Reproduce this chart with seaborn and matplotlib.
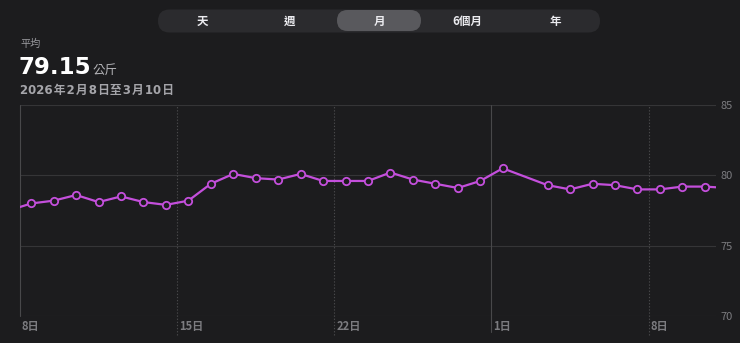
import matplotlib
matplotlib.use("Agg")
import matplotlib.pyplot as plt
import matplotlib.transforms as mtransforms
from matplotlib.patches import FancyBboxPatch
import numpy as np
import pandas as pd
import seaborn as sns

# ---------------- data ----------------
dates = ["2026-02-07", "2026-02-08", "2026-02-09", "2026-02-10", "2026-02-11",
         "2026-02-12", "2026-02-13", "2026-02-14", "2026-02-15", "2026-02-16",
         "2026-02-17", "2026-02-18", "2026-02-19", "2026-02-20", "2026-02-21",
         "2026-02-22", "2026-02-23", "2026-02-24", "2026-02-25", "2026-02-26",
         "2026-02-27", "2026-02-28", "2026-03-01", "2026-03-03", "2026-03-04",
         "2026-03-05", "2026-03-06", "2026-03-07", "2026-03-08", "2026-03-09",
         "2026-03-10", "2026-03-11"]
weights = [77.5, 78.0, 78.2, 78.6, 78.1, 78.5, 78.1, 77.9, 78.2, 79.4,
           80.1, 79.8, 79.7, 80.1, 79.6, 79.6, 79.6, 80.2, 79.7, 79.4,
           79.1, 79.6, 80.5, 79.3, 79.0, 79.4, 79.3, 79.0, 79.0, 79.2,
           79.2, 79.1]
range_start = "2026-02-08"
range_days = 31
tick_days = [0, 7, 14, 21, 28]
tick_labels = ["8日", "15日", "22日", "1日", "8日"]
solid_ticks = [0, 21]
y_ticks = [70, 75, 80, 85]
segments = ["天", "週", "月", "6個月", "年"]
selected_segment = "月"
avg_label = "平均"
avg_value = "79.15"
avg_unit = "公斤"
date_range_text = "2026\u200a年\u200a2\u200a月\u200a8\u200a日至\u200a3\u200a月\u200a10\u200a日"

# ---------------- style ----------------
BG = "#1c1c1e"
PURPLE = "#c44fdc"
GRID = "#353537"
VGRID = "#48484a"
TICK = "#7c7c80"

sns.set_theme(style="dark")
plt.rcParams["font.family"] = ["Noto Sans CJK TC", "DejaVu Sans"]

W, H, DPI = 740, 343, 100
fig = plt.figure(figsize=(W / DPI, H / DPI), dpi=DPI, facecolor=BG)

# chart axes
L, R, T, B = 20, 716, 105, 316
ax = fig.add_axes([L / W, (H - B) / H, (R - L) / W, (B - T) / H])
ax.set_facecolor(BG)

df = pd.DataFrame({"date": pd.to_datetime(dates), "weight": weights})
df["x"] = (df["date"] - pd.Timestamp(range_start)).dt.days + 0.5

sns.lineplot(data=df, x="x", y="weight", ax=ax, color=PURPLE, linewidth=1.6,
             marker="o", markersize=5.3, markerfacecolor=BG,
             markeredgecolor=PURPLE, markeredgewidth=1.3, zorder=5)

ax.set_xlim(0, range_days)
ax.set_ylim(y_ticks[0], y_ticks[-1])
for s in ax.spines.values():
    s.set_visible(False)
ax.grid(False)

# horizontal grid
for yv in y_ticks:
    ax.axhline(yv, color=GRID, linewidth=0.8, zorder=1)

# vertical grid
for d in tick_days:
    if d in solid_ticks:
        bottom = 0 if d == 0 else -0.075
        ax.plot([d, d], [bottom, 1], transform=ax.get_xaxis_transform(),
                color=VGRID, linewidth=0.8, clip_on=False, zorder=1)
    else:
        ax.plot([d, d], [-0.09, 1], transform=ax.get_xaxis_transform(),
                color=VGRID, linewidth=0.8, linestyle=(0, (1.2, 1.6)),
                clip_on=False, zorder=1)

# x labels
ax.set_xticks([])
tr = mtransforms.offset_copy(ax.get_xaxis_transform(), fig=fig, x=2, y=0, units="dots")
for d, lab in zip(tick_days, tick_labels):
    ax.text(d, -0.052, lab, transform=tr, ha="left", va="center",
            color=TICK, fontsize=8, fontweight="bold")

# y labels on right
ax.yaxis.tick_right()
ax.set_yticks(y_ticks)
ax.set_yticklabels([str(v) for v in y_ticks])
ax.tick_params(axis="y", length=0, pad=3.5, labelsize=8, labelcolor=TICK)
ax.tick_params(axis="x", length=0)
ax.set_xlabel("")
ax.set_ylabel("")

# overlay axes in pixel coordinates for header
ov = fig.add_axes([0, 0, 1, 1], zorder=-1)
ov.set_xlim(0, W)
ov.set_ylim(H, 0)
ov.axis("off")
ov.patch.set_alpha(0)

# segmented control
ov.add_patch(FancyBboxPatch((158 + 11.5, 21), 442 - 23, 0,
                            boxstyle="round,pad=11.5", facecolor="#2b2b2e",
                            edgecolor="none"))
seg_x = [202, 290, 379, 467, 555]
for xc, lab in zip(seg_x, segments):
    if lab == selected_segment:
        ov.add_patch(FancyBboxPatch((337 + 10.5, 20.5), 84 - 21, 0,
                                    boxstyle="round,pad=10.5", facecolor="#59595d",
                                    edgecolor="none"))
    ov.text(xc, 21.5, lab, ha="center", va="center", color="#ececf0",
            fontsize=8.3, fontweight="bold")

# header text
ov.text(20, 43.5, avg_label, ha="left", va="center", color="#9a9a9f", fontsize=7.3)
ov.text(19, 73.5, avg_value, ha="left", va="baseline", color="white",
        fontsize=16.5, fontweight="bold", family="DejaVu Sans")
ov.text(93, 73.5, avg_unit, ha="left", va="baseline", color="#b4b4b8",
        fontsize=9)
ov.text(20, 90.5, date_range_text, ha="left", va="center", color="#a5a5aa",
        fontsize=8.5, fontweight="bold", family=["DejaVu Sans", "Noto Sans CJK TC"])

fig.savefig("out.png", dpi=DPI, facecolor=BG)
